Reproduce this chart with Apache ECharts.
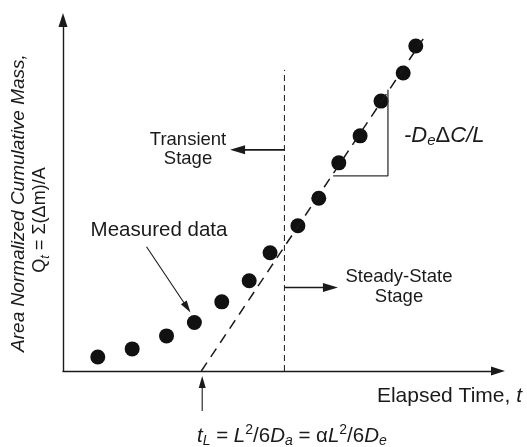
<!DOCTYPE html>
<html lang="en">

<head>
    <meta charset="utf-8">
    <title>Time-lag plot</title>
    <style media="screen">
        html, body {
            margin: 0;
            padding: 0;
            background: #fff;
        }
        #id-main-area {
            width: 527px;
            height: 447px;
        }
    </style>
</head>

<body>
    <div id="id-main-area"></div>
    <script src="https://cdn.jsdelivr.net/npm/echarts@6/dist/echarts.min.js"></script>
    <script>
        var log = console.log.bind(console)

        // measured points, elapsed time (x) vs cumulative mass (y), arbitrary units
        var timeValues = [0.80, 1.59, 2.38, 3.02, 3.65, 4.28, 4.76, 5.40, 5.88, 6.34, 6.83, 7.31, 7.82, 8.11]
        var massValues = [0.40, 0.63, 1.00, 1.38, 1.97, 2.57, 3.37, 4.14, 4.92, 5.93, 6.70, 7.69, 8.49, 9.26]

        // steady-state fit line, extrapolated down to the time lag
        var fitLine = [[3.18, 0], [8.28, 9.46]]
        // boundary between transient and steady-state stage
        var stageLine = [[5.09, 0], [5.09, 8.58]]
        // slope triangle
        var slopeLine = [[6.21, 5.56], [7.47, 5.56], [7.47, 8.01]]

        // arrows: [fromX, fromY, toX, toY]
        var stageArrows = [
            [5.09, 6.30, 3.84, 6.30],
            [5.09, 2.38, 6.32, 2.38],
        ]
        var pointerArrows = [
            [1.92, 3.54, 2.93, 1.67],
            [3.20, -1.14, 3.20, -0.14],
        ]

        var font = '"Liberation Sans", Arial, Helvetica, sans-serif'
        var ink = '#1a1a1a'

        var pairs = (xs, ys) => {
            var l = []
            for (var i = 0; i < xs.length; i++) {
                l.push([xs[i], ys[i]])
            }
            return l
        }

        var arrowSeries = (data, width, headLen, headHalf) => {
            return {
                type: 'custom',
                clip: false,
                silent: true,
                encode: { x: [0, 2], y: [1, 3] },
                data: data,
                renderItem: (params, api) => {
                    var p0 = api.coord([api.value(0), api.value(1)])
                    var p1 = api.coord([api.value(2), api.value(3)])
                    var dx = p1[0] - p0[0]
                    var dy = p1[1] - p0[1]
                    var len = Math.sqrt(dx * dx + dy * dy)
                    var ux = dx / len
                    var uy = dy / len
                    var bx = p1[0] - ux * headLen
                    var by = p1[1] - uy * headLen
                    return {
                        type: 'group',
                        children: [
                            {
                                type: 'line',
                                shape: { x1: p0[0], y1: p0[1], x2: bx + ux, y2: by + uy },
                                style: { stroke: ink, lineWidth: width },
                            },
                            {
                                type: 'polygon',
                                shape: {
                                    points: [
                                        [p1[0], p1[1]],
                                        [bx - uy * headHalf, by + ux * headHalf],
                                        [bx + uy * headHalf, by - ux * headHalf],
                                    ]
                                },
                                style: { fill: ink },
                            },
                        ]
                    }
                }
            }
        }

        var richStyles = (size) => {
            var small = Math.round(size * 0.7)
            return {
                n: { fontSize: size, fontFamily: font, fill: ink },
                i: { fontSize: size, fontFamily: font, fontStyle: 'italic', fill: ink },
                sub: { fontSize: small, fontFamily: font, fontStyle: 'italic', fill: ink, padding: [10, 0, 0, 0] },
                sup: { fontSize: small, fontFamily: font, fill: ink, padding: [0, 0, 11, 0] },
            }
        }

        var label = (text, x, y, size, opts) => {
            var o = opts || {}
            return {
                type: 'text',
                x: x,
                y: y,
                rotation: o.rotation || 0,
                silent: true,
                style: {
                    text: text,
                    fontSize: size,
                    fontFamily: font,
                    fontStyle: o.italic ? 'italic' : 'normal',
                    lineHeight: o.lineHeight || Math.round(size * 1.2),
                    fill: ink,
                    align: o.align || 'center',
                    verticalAlign: 'middle',
                    rich: o.rich ? richStyles(size) : undefined,
                }
            }
        }

        var showChart = () => {
            var element = document.querySelector('#id-main-area')
            var myChart = echarts.init(element, null, { renderer: 'canvas' })
            var axisLine = {
                show: true,
                symbol: ['none', 'triangle'],
                symbolSize: [9, 14],
                lineStyle: { color: ink, width: 1.4 },
            }
            var option = {
                animation: false,
                backgroundColor: '#fff',
                grid: { left: 63, right: 29, top: 20, bottom: 76 },
                xAxis: {
                    type: 'value',
                    min: 0,
                    max: 10,
                    axisLine: axisLine,
                    axisTick: { show: false },
                    axisLabel: { show: false },
                    splitLine: { show: false },
                },
                yAxis: {
                    type: 'value',
                    min: 0,
                    max: 10,
                    axisLine: axisLine,
                    axisTick: { show: false },
                    axisLabel: { show: false },
                    splitLine: { show: false },
                },
                series: [
                    {
                        type: 'line',
                        data: fitLine,
                        symbol: 'none',
                        silent: true,
                        lineStyle: { color: ink, width: 1.5, type: [10, 7] },
                    },
                    {
                        type: 'line',
                        data: stageLine,
                        symbol: 'none',
                        silent: true,
                        lineStyle: { color: ink, width: 1, type: [6, 4] },
                    },
                    {
                        type: 'line',
                        data: slopeLine,
                        symbol: 'none',
                        silent: true,
                        lineStyle: { color: '#333', width: 1.3 },
                    },
                    {
                        type: 'scatter',
                        data: pairs(timeValues, massValues),
                        symbol: 'circle',
                        symbolSize: 15,
                        itemStyle: { color: '#111', opacity: 1 },
                    },
                    arrowSeries(stageArrows, 1.6, 15, 4.5),
                    arrowSeries(pointerArrows, 1.1, 12, 3.5),
                ],
                graphic: [
                    label('Area Normalized Cumulative Mass,', 19, 203, 19, { italic: true, rotation: Math.PI / 2 }),
                    label('{n|Q}{sub|t}{n| = Σ(Δm)/A}', 40, 220, 18, { rotation: Math.PI / 2, rich: true, lineHeight: 24 }),
                    label('Transient\nStage', 188, 149, 18.5, { lineHeight: 19 }),
                    label('Steady-State\nStage', 399, 287, 18.5, { lineHeight: 20 }),
                    label('Measured data', 159, 230, 20.5),
                    label('{i|-D}{sub|e}{n|Δ}{i|C/L}', 404, 136, 22, { align: 'left', rich: true, lineHeight: 26 }),
                    label('Elapsed Time, {i|t}', 522, 396, 21, { align: 'right', rich: true, lineHeight: 26 }),
                    label('{i|t}{sub|L}{n| = }{i|L}{sup|2}{n|/6}{i|D}{sub|a}{n| = α}{i|L}{sup|2}{n|/6}{i|D}{sub|e}', 197, 436, 20.5, { align: 'left', rich: true, lineHeight: 26 }),
                ],
            }
            myChart.setOption(option, true)
        }

        var __main = () => {
            showChart()
        }

        __main()
    </script>
</body>

</html>
